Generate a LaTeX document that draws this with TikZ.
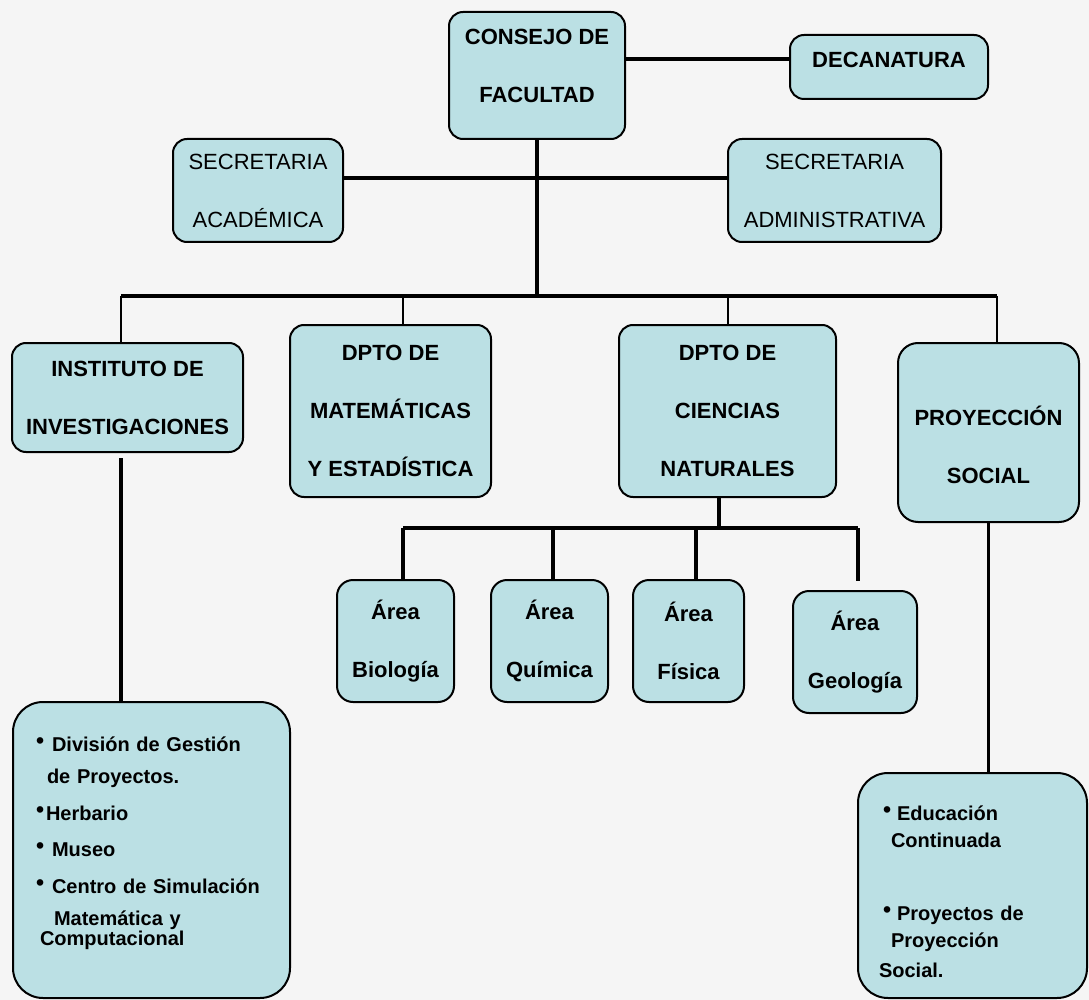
\documentclass[tikz,border=0pt]{standalone}
\usepackage{fontspec}
\setmainfont{Liberation Sans}
\usepackage{tikz}
\usepackage{xcolor}
\usetikzlibrary{positioning, calc}
\definecolor{boxfill}{RGB}{187, 224, 228}
\definecolor{bggray}{RGB}{245, 245, 245}
\newcommand{\blt}[1]{\makebox[#1][l]{\raisebox{2.5pt}{\fontsize{23}{23}\selectfont •}}}

\begin{document}
\begin{tikzpicture}[
    x=1pt, y=-1pt,
    orgbox/.style={draw, line width=2pt, fill=boxfill, rounded corners=14pt, inner sep=0pt, align=center, font=\bfseries\fontsize{22}{58}\selectfont},
    plainbox/.style={orgbox, font=\fontsize{22}{58}\selectfont},
    listbox/.style={orgbox, rounded corners=30pt, align=left},
    link/.style={line width=3.2pt},
    thinlink/.style={line width=2pt},
    barline/.style={line width=4.4pt}
]

% Background
\fill[bggray] (0,0) rectangle (1089,1000);
\useasboundingbox (0,0) rectangle (1089,1000);

% Top level
\node[orgbox, minimum width=176pt, minimum height=127pt] (consejo) at (537,75.5) {CONSEJO DE\\FACULTAD\rule[-20pt]{0pt}{20pt}};
\node[orgbox, minimum width=198pt, minimum height=64pt] (decanatura) at (889,67) {DECANATURA\rule[-14pt]{0pt}{14pt}};
\node[plainbox, minimum width=170pt, minimum height=103pt] (secacad) at (258,190.5) {SECRETARIA\\ACADÉMICA};
\node[plainbox, minimum width=213pt, minimum height=103pt] (secadmin) at (834.5,190.5) {SECRETARIA\\ADMINISTRATIVA};

\coordinate (decrow) at (700,59);
\coordinate (secrow) at (537,178);
\coordinate (hub) at (537,296);
\draw[link] (consejo.east |- decrow) -- (decanatura.west |- decrow);
\draw[link] (secacad.east |- secrow) -- (secadmin.west |- secrow);
\draw[link] (consejo.south) -- (hub);

% Second level
\node[orgbox, minimum width=231pt, minimum height=109pt] (instituto) at (127.5,397.5) {INSTITUTO DE\\INVESTIGACIONES};
\node[orgbox, minimum width=201pt, minimum height=172pt] (dptomat) at (390.5,411) {DPTO DE\\MATEMÁTICAS\\Y ESTADÍSTICA};
\node[orgbox, minimum width=217pt, minimum height=172pt] (dptocn) at (727.5,411) {DPTO DE\\CIENCIAS\\NATURALES};
\node[orgbox, rounded corners=20pt, minimum width=181pt, minimum height=179pt] (proyeccion) at (988.5,432.5) {\rule{0pt}{44pt}PROYECCIÓN\\SOCIAL};

\coordinate (barL) at (121,296);
\coordinate (barM) at (403,296);
\coordinate (barR) at (997,296);
\draw[barline] (barL) -- (barR);
\draw[thinlink] (barL) -- (instituto.north -| barL);
\draw[thinlink] (barM) -- (dptomat.north -| barM);
\draw[thinlink] (dptocn.north |- barL) -- (dptocn.north);
\draw[thinlink] (barR) -- (proyeccion.north -| barR);

% Areas
\node[orgbox, rounded corners=16pt, minimum width=117pt, minimum height=122pt] (biologia) at (395.5,641) {Área\\Biología};
\node[orgbox, rounded corners=16pt, minimum width=117pt, minimum height=122pt] (quimica) at (549.5,641) {Área\\Química};
\node[orgbox, rounded corners=16pt, minimum width=111pt, minimum height=122pt] (fisica) at (688.5,641) {Área\\Física};
\node[orgbox, rounded corners=16pt, minimum width=124pt, minimum height=122pt] (geologia) at (855,652) {Área\\Geología};

\coordinate (subhub) at (719,528);
\coordinate (subL) at (403,528);
\coordinate (subQ) at (553,528);
\coordinate (subF) at (696,528);
\coordinate (subR) at (858,528);
\coordinate (geoend) at (858,581);
\draw[link] (dptocn.south -| subhub) -- (subhub);
\draw[link] (subL) -- (subR);
\draw[link] (subL) -- (biologia.north -| subL);
\draw[link] (subQ) -- (quimica.north -| subQ);
\draw[link] (subF) -- (fisica.north -| subF);
\draw[link] (subR) -- (geoend);

% Lower boxes
\node[listbox, text width=231pt, minimum width=277pt, minimum height=296pt, font=\bfseries\fontsize{20}{34}\selectfont] (divisiones) at (151.5,850) {%
\blt{16pt}División de Gestión\\[-2pt]
\hspace*{11pt}de Proyectos.\\[3pt]
\blt{10pt}Herbario\\[2pt]
\blt{16pt}Museo\\[3pt]
\blt{16pt}Centro de Simulación\\[-2pt]
\hspace*{18pt}Matemática y\\[-14pt]
\hspace*{4pt}Computacional\rule[-18pt]{0pt}{18pt}};

\node[listbox, text width=187pt, minimum width=229pt, minimum height=225pt, font=\bfseries\fontsize{20}{27}\selectfont] (educacion) at (972.5,885.5) {%
\rule{0pt}{27pt}\hspace*{4pt}\blt{14pt}Educación\\
\hspace*{12pt}Continuada\\[46pt]
\hspace*{4pt}\blt{14pt}Proyectos de\\
\hspace*{12pt}Proyección\\[3pt]
Social.};

\coordinate (instdrop) at (121,458);
\draw[link] (instdrop) -- (divisiones.north -| instdrop);
\draw[link] (proyeccion.south) -- (educacion.north -| proyeccion.south);

\end{tikzpicture}
\end{document}
